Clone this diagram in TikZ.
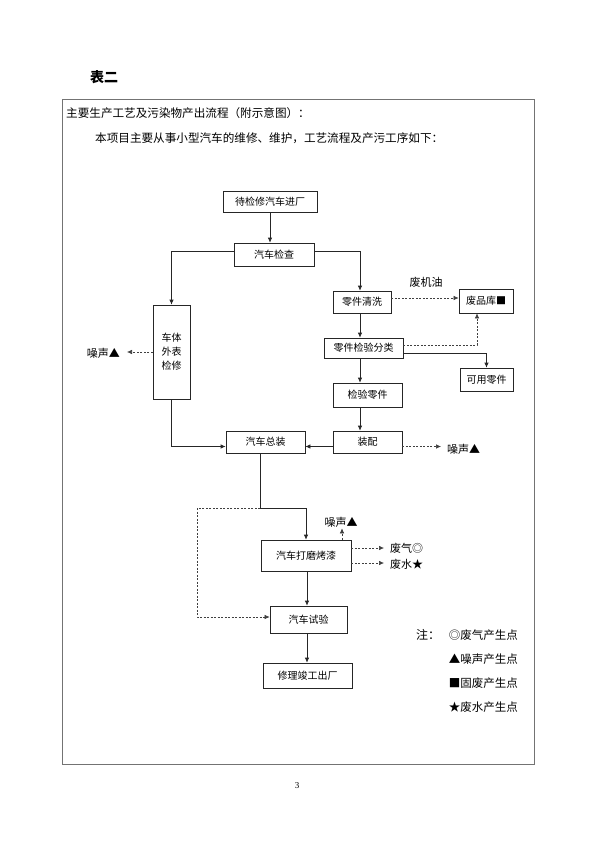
\documentclass[tikz,border=0pt]{standalone}
\usepackage{fontspec}
\setmainfont{Liberation Serif}
\newfontfamily\cjk{Noto Sans CJK SC}
\usetikzlibrary{arrows.meta}
\tikzset{
  box/.style={draw=black!85, line width=0.7pt, inner sep=0pt, font=\cjk\fontsize{10}{12}\selectfont},
  lbl/.style={inner sep=1pt, font=\cjk\fontsize{11}{13}\selectfont},
  leg/.style={inner sep=0pt, anchor=east, font=\cjk\fontsize{11.5}{13}\selectfont},
  arr/.style={draw=black!85, line width=0.7pt, -{Latex[length=5pt,width=4.5pt]}},
  darr/.style={draw=black!75, line width=0.6pt, dash pattern=on 2pt off 1.5pt, -{Latex[length=5pt,width=4.5pt]}},
  dline/.style={draw=black!75, line width=0.6pt, dash pattern=on 2pt off 1.5pt},
}
\begin{document}
\begin{tikzpicture}[x=1pt,y=-1pt]
\useasboundingbox (0,0) rectangle (595,841);
% frame and header
\node[font=\cjk\bfseries\fontsize{14}{16}\selectfont, inner sep=0pt] (title) at (104,77) {表二};
\draw[draw=black!55, line width=0.8pt] (62,99) rectangle (534,764);
\node[anchor=west, inner sep=0pt, font=\cjk\fontsize{11.6}{14}\selectfont] (h1) at (66,113) {主要生产工艺及污染物产出流程（附示意图）：};
\node[anchor=west, inner sep=0pt, font=\cjk\fontsize{11.6}{14}\selectfont] (h2) at (95,138) {本项目主要从事小型汽车的维修、维护，工艺流程及产污工序如下：};
% boxes
\node[box, minimum width=94pt, minimum height=21pt] (n1) at (270,202) {待检修汽车进厂};
\node[box, minimum width=80pt, minimum height=23pt] (n2) at (274,254.5) {汽车检查};
\node[box, minimum width=58pt, minimum height=22pt] (n3) at (362,302) {零件清洗};
\node[box, minimum width=54pt, minimum height=24pt] (n4) at (486,301) {废品库■};
\node[box, minimum width=79pt, minimum height=20pt] (n5) at (363.5,348) {零件检验分类};
\node[box, minimum width=53pt, minimum height=23pt] (n6) at (486.5,379.5) {可用零件};
\node[box, minimum width=69pt, minimum height=24pt] (n7) at (367.5,395) {检验零件};
\node[box, minimum width=69pt, minimum height=22pt] (n8) at (367.5,442) {装配};
\node[box, minimum width=79pt, minimum height=22pt] (n9) at (265.5,442) {汽车总装};
\node[box, minimum width=37pt, minimum height=94pt, align=center] (n10) at (171.5,352) {车体\\[2pt]外表\\[2pt]检修};
\node[box, minimum width=90pt, minimum height=31pt] (n11) at (306,555.5) {汽车打磨烤漆};
\node[box, minimum width=77pt, minimum height=27pt] (n12) at (308.5,619.5) {汽车试验};
\node[box, minimum width=89pt, minimum height=25pt] (n13) at (307.5,675.5) {修理竣工出厂};
% labels
\node[lbl] (oil) at (426,282) {废机油};
\node[lbl, anchor=east] (t1) at (121,353) {噪声▲};
\node[lbl, anchor=west] (t3) at (446,449) {噪声▲};
\node[lbl] (t4) at (341,522) {噪声▲};
\node[lbl, anchor=west] (t5) at (389,548) {废气◎};
\node[lbl, anchor=west] (t6) at (389,564) {废水★};
% connectors
\draw[arr] (n1.south) -- (n1.south |- n2.north);
\draw[arr] (n2.west |- 0,251) -| (n10.north);
\draw[arr] (n2.east |- 0,251) -| (n3.north -| 360,0);
\draw[arr] (n3.south -| 360,0) -- (n5.north -| 360,0);
\draw[darr] (n3.east |- 0,298) -- (n4.west |- 0,298);
\draw[darr] (n5.east |- 0,345) -| (n4.south -| 477,0);
\draw[arr] (n5.east |- 0,353) -| (n6.north);
\draw[arr] (n5.south -| 360,0) -- (n7.north -| 360,0);
\draw[arr] (n7.south -| 360,0) -- (n8.north -| 360,0);
\draw[arr] (n8.west |- 0,446.5) -- (n9.east |- 0,446.5);
\draw[arr] (n10.south) |- (n9.west |- 0,446.5);
\draw[darr] (n10.west) -- ([xshift=6pt]t1.east |- n10.west);
\draw[darr] (n8.east |- 0,446.5) -- ([xshift=-5pt]t3.west |- 0,446.5);
\coordinate (j) at (260,508);
\draw[arr] (n9.south -| j) -- (j) -| (n11.north);
\draw[dline] (j) -- (197,508);
\draw[darr] (197,508) |- (n12.west |- 0,617);
\draw[darr] (n11.north -| 342,0) -- (t4.south -| 342,0);
\draw[darr] (n11.east |- 0,548) -- ([xshift=-5pt]t5.west);
\draw[darr] (n11.east |- 0,563) -- ([xshift=-5pt]t6.west |- 0,563);
\draw[arr] (n11.south -| 307,0) -- (n12.north -| 307,0);
\draw[arr] (n12.south -| 307,0) -- (n13.north -| 307,0);
% legend
\node[inner sep=0pt, font=\cjk\fontsize{12}{14}\selectfont] (note) at (428,635) {注：};
\node[leg] (l1) at (518,635) {◎废气产生点};
\node[leg] (l2) at (518,659) {▲噪声产生点};
\node[leg] (l3) at (518,683) {■固废产生点};
\node[leg] (l4) at (518,707) {★废水产生点};
% page number
\node[inner sep=0pt, font=\fontsize{9}{10}\selectfont] (pg) at (297,786) {3};
\end{tikzpicture}
\end{document}
